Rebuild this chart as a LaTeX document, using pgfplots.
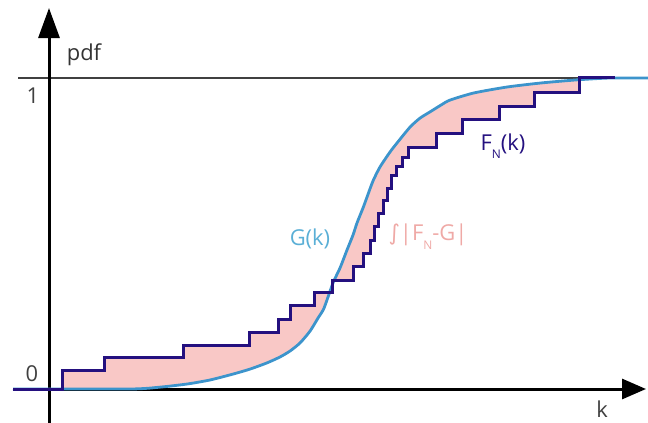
\documentclass[border=0pt]{standalone}
\usepackage{fontspec}
\setmainfont{Open Sans}
\newfontfamily\symfont{DejaVu Sans}
\usepackage{pgfplots}
\pgfplotsset{compat=1.18}
\usepgfplotslibrary{fillbetween}
\usetikzlibrary{arrows.meta}

\definecolor{fnavy}{HTML}{24107F}
\definecolor{gblue}{HTML}{3C94CC}
\definecolor{fillpink}{HTML}{F9C8C6}
\definecolor{lblblue}{HTML}{5AAFD6}
\definecolor{lblpink}{HTML}{EFA9A6}

\newcommand{\lbl}{\fontsize{22}{26}\selectfont}
\newcommand{\sub}[1]{\raisebox{-0.4em}{\fontsize{12}{12}\selectfont #1}}

\begin{document}
\begin{tikzpicture}
\begin{axis}[
    scale only axis,
    width=648bp, height=423bp,
    xmin=0, xmax=648,
    ymin=-0.1093, ymax=1.2508,
    hide axis,
    clip=false,
]
% reference line at 1 and the two axes
\draw[line width=1.4bp, black!75] (axis cs:18,1) -- (axis cs:648,1);
\draw[line width=3bp, -{Triangle[length=30bp,width=21bp]}] (axis cs:49,-0.1093) -- (axis cs:49,1.225);
\draw[line width=3bp, -{Triangle[length=24bp,width=20bp]}] (axis cs:14,0) -- (axis cs:646,0);

% model cdf G(k)
\addplot[name path=G, gblue, line width=2.8bp, smooth, tension=0.4] coordinates {
(13,0) (130,0) (160,0.006) (187,0.016) (210,0.029) (233,0.048) (250,0.064)
(267,0.084) (280,0.103) (290,0.122) (300,0.148) (310,0.186) (318,0.228)
(324,0.260) (333,0.341) (340,0.389) (347,0.447) (353,0.495) (357,0.534)
(363,0.582) (367,0.617) (373,0.669) (380,0.714) (390,0.762) (397,0.791)
(410,0.842) (420,0.871) (430,0.891) (441,0.913) (450,0.929) (474,0.952)
(507,0.971) (541,0.984) (577,0.994) (610,1) (648,1)
};

% empirical cdf F_N(k)
\addplot[name path=F, fnavy, line width=3bp, const plot] coordinates {
(13,0) (62,0.058) (104,0.100) (183,0.141) (249,0.183) (278,0.225)
(290,0.267) (314,0.309) (332,0.350) (353,0.395) (363,0.437) (370,0.479)
(374,0.521) (378,0.563) (383,0.605) (387,0.646) (391,0.685) (396,0.714)
(402,0.743) (408,0.778) (436,0.823) (462,0.865) (499,0.907) (534,0.952)
(579,1) (615,1)
};

\addplot[fillpink] fill between[of=F and G];

% labels
\node[font=\lbl, text=black!80] at (axis cs:84,1.074) {pdf};
\node[font=\lbl, text=black!75] at (axis cs:33,0.942) {1};
\node[font=\lbl, text=black!75] at (axis cs:32,0.048) {0};
\node[font=\lbl, text=black!75, inner sep=1pt] at (axis cs:602,-0.066) {k};
\node[font=\lbl, text=lblblue] at (axis cs:310,0.482) {G(k)};
\node[font=\lbl, text=lblpink, anchor=west] at (axis cs:385,0.489) {{\symfont ∫}|F\sub{N}-G|};
\node[font=\lbl, text=fnavy, anchor=west] at (axis cs:477,0.781) {F\sub{N}(k)};
\end{axis}
\pgfresetboundingbox
\path[use as bounding box] (current axis.south west) rectangle (current axis.north east);
\end{tikzpicture}
\end{document}
